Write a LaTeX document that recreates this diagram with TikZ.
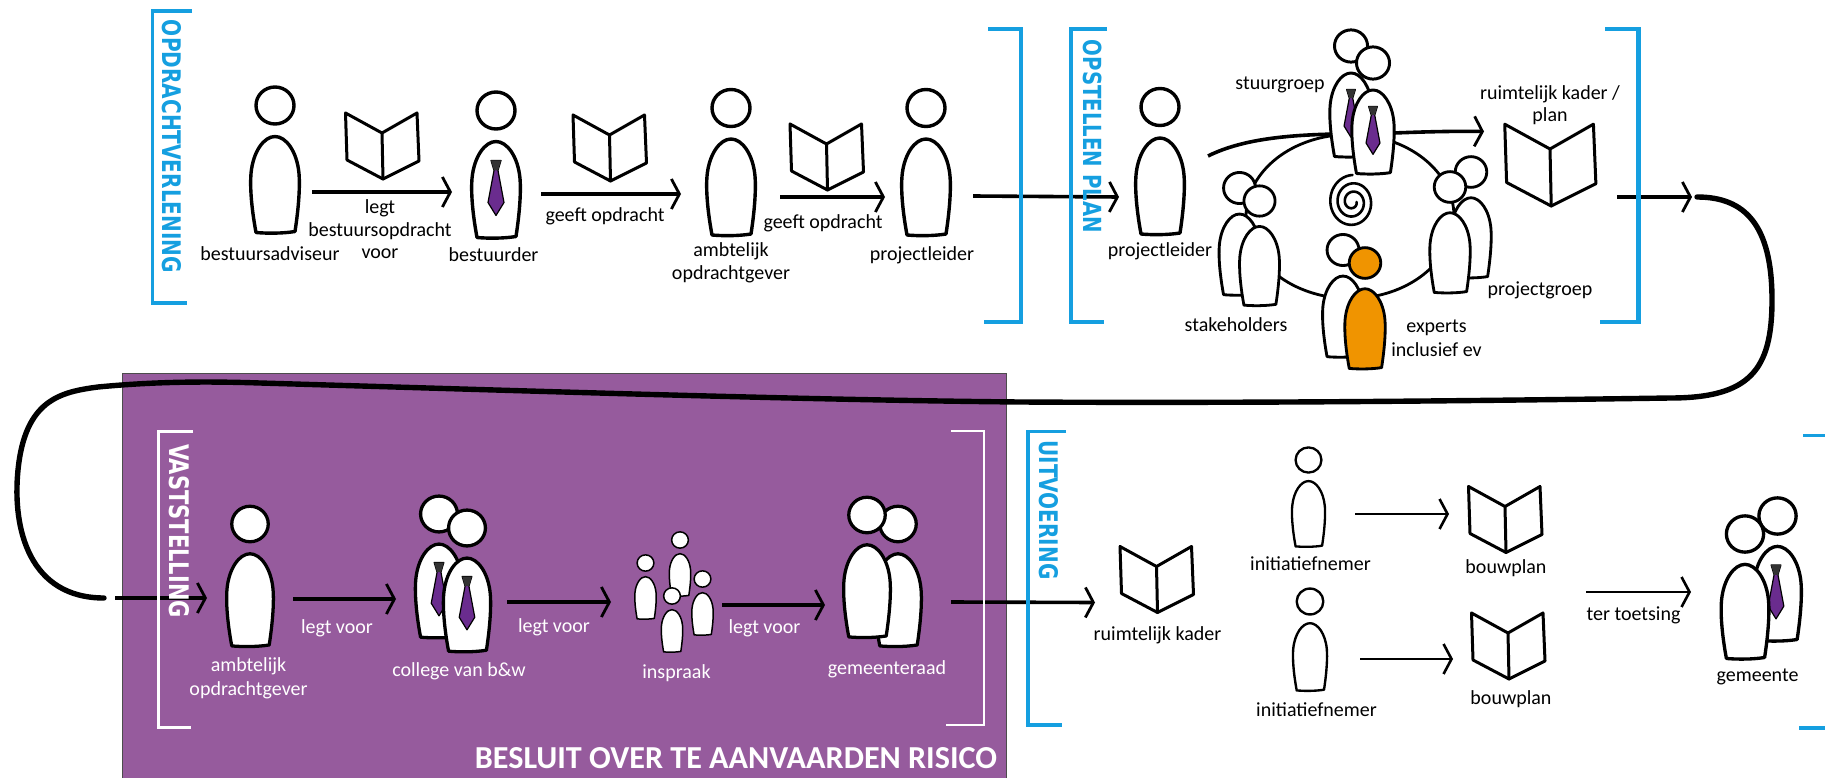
\documentclass[tikz,border=0pt]{standalone}
\usepackage{fontspec}
\usepackage{graphicx}
\setmainfont{Carlito}
\newfontfamily\headfont{DejaVu Sans}
\usetikzlibrary{arrows.meta}
\definecolor{brblue}{HTML}{159FE0}
\definecolor{plum}{HTML}{965B9D}
\definecolor{tiepurple}{HTML}{6A2C8E}
\definecolor{expert}{HTML}{F09400}
\tikzset{
  figline/.style={draw=black,line cap=round,line join=round},
  flow/.style={draw=black,line width=3.6pt,-{Straight Barb[length=8pt,width=30pt,line width=2.8pt]}},
  thinflow/.style={draw=black,line width=2.8pt,-{Straight Barb[length=8pt,width=30pt,line width=2.6pt]}},
  bigcurve/.style={draw=black,line width=5.4pt,line cap=round},
  brace/.style={draw=brblue,line width=3.4pt},
  wbrace/.style={draw=white,line width=3pt},
  lab/.style={inner sep=0pt,font=\fontsize{20}{22}\selectfont,text=black},
  wlab/.style={lab,text=white},
  headtxt/.style={inner sep=0pt,rotate=-90,text=brblue},
  wheadtxt/.style={headtxt,text=white},
}
\newcommand{\Prsn}[4][white]{%
  \begin{scope}[shift={(#2,#3)},scale=#4]
    \path[figline,fill=#1,line width=#4*3.4pt]
      (-19,127) .. controls (-24,100) and (-25,80) .. (-24,68)
      .. controls (-22,46) and (-11,31) .. (0,31)
      .. controls (11,31) and (22,46) .. (24,68)
      .. controls (25,80) and (24,100) .. (20,126)
      .. controls (8,128) and (-8,128) .. cycle;
    \path[figline,fill=#1,line width=#4*3.4pt] (0,0) ellipse [x radius=19,y radius=18.5];
  \end{scope}}
\newcommand{\Tie}[3]{%
  \begin{scope}[shift={(#1,#2)},scale=#3]
    \path[figline,fill=tiepurple,line width=1.2pt]
      (-5,50) -- (5,50) -- (2,60) -- (8,92) -- (0,105) -- (-8,92) -- (-2,60) -- cycle;
    \path[fill=black!80] (-5,50) -- (5,50) -- (2,60) -- (-2,60) -- cycle;
  \end{scope}}
\newcommand{\Book}[3]{%
  \begin{scope}[shift={(#1,#2)},scale=#3]
    \path[figline,line width=3pt] (0,0) -- (-36.5,-20) -- (-35,27) -- (1,46) -- (37,28) -- (35,-20) -- cycle;
    \path[figline,line width=3pt] (0,0) -- (1,46);
  \end{scope}}
\newcommand{\Heading}[3]{\resizebox{#1pt}{#2pt}{\headfont\bfseries #3}}
\begin{document}
\begin{tikzpicture}[x=1pt,y=-1pt]
\useasboundingbox (0,0) rectangle (1825,778);
\fill[white] (0,0) rectangle (1825,778);
\path[fill=plum,draw=black!70,line width=.8pt] (122,373.5) rectangle (1006,790);

% coordinates of connector ends
\coordinate (a1s) at (312,192);   \coordinate (a1e) at (452,192);
\coordinate (a2s) at (541,194);   \coordinate (a2e) at (681,194);
\coordinate (a3s) at (780,197);   \coordinate (a3e) at (885,197);
\coordinate (a4s) at (973,196);   \coordinate (a4e) at (1119,197);
\coordinate (m1s) at (1208,156);  \coordinate (m1e) at (1484,131.5);
\coordinate (a6s) at (1617,197);  \coordinate (a6e) at (1692,197);
\coordinate (c1s) at (1697,197);  \coordinate (c1e) at (104,598);
\coordinate (b0s) at (115,598);   \coordinate (b0e) at (207,598);
\coordinate (b1s) at (293,599);   \coordinate (b1e) at (396,599);
\coordinate (b2s) at (507,602);   \coordinate (b2e) at (611,602);
\coordinate (b3s) at (722,605);   \coordinate (b3e) at (825,605);
\coordinate (b4s) at (951,602);   \coordinate (b4e) at (1095,602.5);
\coordinate (i1s) at (1355,514);  \coordinate (i1e) at (1449,514);
\coordinate (i2s) at (1360,659);  \coordinate (i2e) at (1453,659);
\coordinate (t1s) at (1586,592);  \coordinate (t1e) at (1691,592);

% big connecting curve
\draw[bigcurve] (c1s) .. controls (1745,197) and (1772,225) .. (1772,300)
  .. controls (1772,370) and (1750,398) .. (1670,398)
  .. controls (1400,402) and (1200,403) .. (1020,402)
  .. controls (800,400) and (500,390) .. (260,383)
  .. controls (200,381) and (150,382) .. (98,387)
  .. controls (60,392) and (25,400) .. (18,470)
  .. controls (12,530) and (30,598) .. (c1e);

% connectors
\draw[flow] (a1s) -- (a1e);
\draw[flow] (a2s) -- (a2e);
\draw[flow] (a3s) -- (a3e);
\draw[flow] (a4s) -- (a4e);
\draw[flow] (a6s) -- (a6e);
\draw[flow] (b0s) -- (b0e);
\draw[flow] (b1s) -- (b1e);
\draw[flow] (b2s) -- (b2e);
\draw[flow] (b3s) -- (b3e);
\draw[flow] (b4s) -- (b4e);
\draw[thinflow] (i1s) -- (i1e);
\draw[thinflow] (i2s) -- (i2e);
\draw[thinflow] (t1s) -- (t1e);
\draw[flow] (m1s) .. controls (1260,130) and (1340,135) .. (1394,133) .. controls (1420,132) and (1450,131) .. (m1e);

% brackets
\draw[brace] (192,11) -- (152.5,11) -- (152.5,303) -- (187,303);
\draw[brace] (988,29) -- (1021,29) -- (1021,322) -- (984,322);
\draw[brace] (1107,29) -- (1071,29) -- (1071,322) -- (1104,322);
\draw[brace,line width=4.6pt] (1605,29) -- (1638.5,29) -- (1638.5,322) -- (1600,322);
\draw[wbrace] (193,431) -- (158,431) -- (158,727) -- (191,727);
\draw[wbrace,line width=2pt] (951,431) -- (984,431) -- (984,725) -- (946,725);
\draw[brace] (1066,431.5) -- (1028,431.5) -- (1028,725) -- (1062,725);
\draw[brace] (1825,435.5) -- (1803,435.5);
\draw[brace] (1825,728) -- (1799,728);

% row 1 figures
\Prsn{275}{105.5}{1}
\Prsn{496}{110.5}{1} \Tie{496}{110.5}{1}
\Prsn{731}{108}{1}
\Prsn{926}{108}{1}
\Prsn{1160}{107}{1}
\Book{382}{133}{1}
\Book{609.5}{135}{1}
\Book{826.5}{144}{1}
\Book{1550}{149}{1.24}

% meeting table
\draw[line width=2.8pt] (1350,216.5) ellipse [x radius=104,y radius=82];
\draw[line width=2.6pt,line cap=round] plot[smooth,samples=130,domain=0:990]
  ({1352.5+(4+\x/990*20)*cos(\x)},{202+(4+\x/990*23)*sin(\x)});

\Prsn{1351}{46}{.87} \Tie{1351}{46}{.87}
\Prsn{1373}{63}{.87} \Tie{1373}{63}{.87}
\Prsn{1239.5}{188}{.84}
\Prsn{1259.5}{201}{.82}
\Prsn{1471}{172}{.83}
\Prsn{1450}{187}{.83}
\Prsn{1343}{250}{.84}
\Prsn[expert]{1365}{263}{.83}

% row 2 figures
\Prsn{250}{524}{.96}
\Prsn{439}{514}{.97} \Tie{439}{514}{.97}
\Prsn{467}{528}{.97} \Tie{467}{528}{.97}
\Prsn{680}{540}{.44}
\Prsn{645.5}{563}{.44}
\Prsn{702.5}{579}{.44}
\Prsn{672}{596}{.44}
\Prsn{898}{524}{.96}
\Prsn{867}{515}{.96}

\Book{1156.5}{566.5}{1}
\Prsn{1308.5}{460}{.68}
\Prsn{1310}{601.5}{.7}
\Book{1505}{506.5}{1}
\Book{1508}{633}{1}
\Prsn{1777.5}{516}{.98} \Tie{1776}{516}{.98}
\Prsn{1745}{534}{.98}

% section headings
\node[headtxt]  (h1) at (171.5,146.5) {\Heading{253}{19}{OPDRACHTVERLENING}};
\node[headtxt]  (h2) at (1093,136.5)  {\Heading{193}{18.5}{OPSTELLEN PLAN}};
\node[wheadtxt] (h3) at (179,531)     {\Heading{174}{20}{VASTSTELLING}};
\node[headtxt]  (h4) at (1049,510)    {\Heading{139}{19}{UITVOERING}};
\node[inner sep=0pt,text=white] (h5) at (736,758.5) {\resizebox{522pt}{21pt}{\bfseries BESLUIT OVER TE AANVAARDEN RISICO}};

% labels row 1
\node[lab] (l1) at (270,254) {bestuursadviseur};
\node[lab] (l2) at (380,208) {legt};
\node[lab] (l3) at (380,231.5) {bestuursopdracht};
\node[lab] (l4) at (380,254) {voor};
\node[lab] (l5) at (493.5,255) {bestuurder};
\node[lab] (l6) at (605,216.5) {geeft opdracht};
\node[lab] (l7) at (731,251.5) {ambtelijk};
\node[lab] (l8) at (731,274) {opdrachtgever};
\node[lab] (l9) at (823,223) {geeft opdracht};
\node[lab] (l10) at (922,255.5) {projectleider};
\node[lab] (l11) at (1280,85) {stuurgroep};
\node[lab] (l12) at (1550,94) {ruimtelijk kader /};
\node[lab] (l13) at (1550,116.5) {plan};
\node[lab] (l14) at (1160,251.5) {projectleider};
\node[lab] (l15) at (1236,325) {stakeholders};
\node[lab] (l16) at (1540,290) {projectgroep};
\node[lab] (l17) at (1436.5,327.5) {experts};
\node[lab] (l18) at (1436.5,350) {inclusief ev};

% labels row 2
\node[wlab] (v1) at (337,628) {legt voor};
\node[wlab] (v2) at (554,627) {legt voor};
\node[wlab] (v3) at (764.5,628) {legt voor};
\node[wlab] (v4) at (248.5,666.5) {ambtelijk};
\node[wlab] (v5) at (248.5,690) {opdrachtgever};
\node[wlab] (v6) at (459,671.5) {college van b\&w};
\node[wlab] (v7) at (676.5,673) {inspraak};
\node[wlab] (v8) at (887,669) {gemeenteraad};
\node[lab] (u1) at (1157.5,635) {ruimtelijk kader};
\node[lab] (u2) at (1310.5,564) {initiatiefnemer};
\node[lab] (u3) at (1506,568) {bouwplan};
\node[lab] (u4) at (1316.5,710) {initiatiefnemer};
\node[lab] (u5) at (1511,699) {bouwplan};
\node[lab] (u6) at (1633.5,615.5) {ter toetsing};
\node[lab] (u7) at (1757.5,677) {gemeente};
\end{tikzpicture}
\end{document}
